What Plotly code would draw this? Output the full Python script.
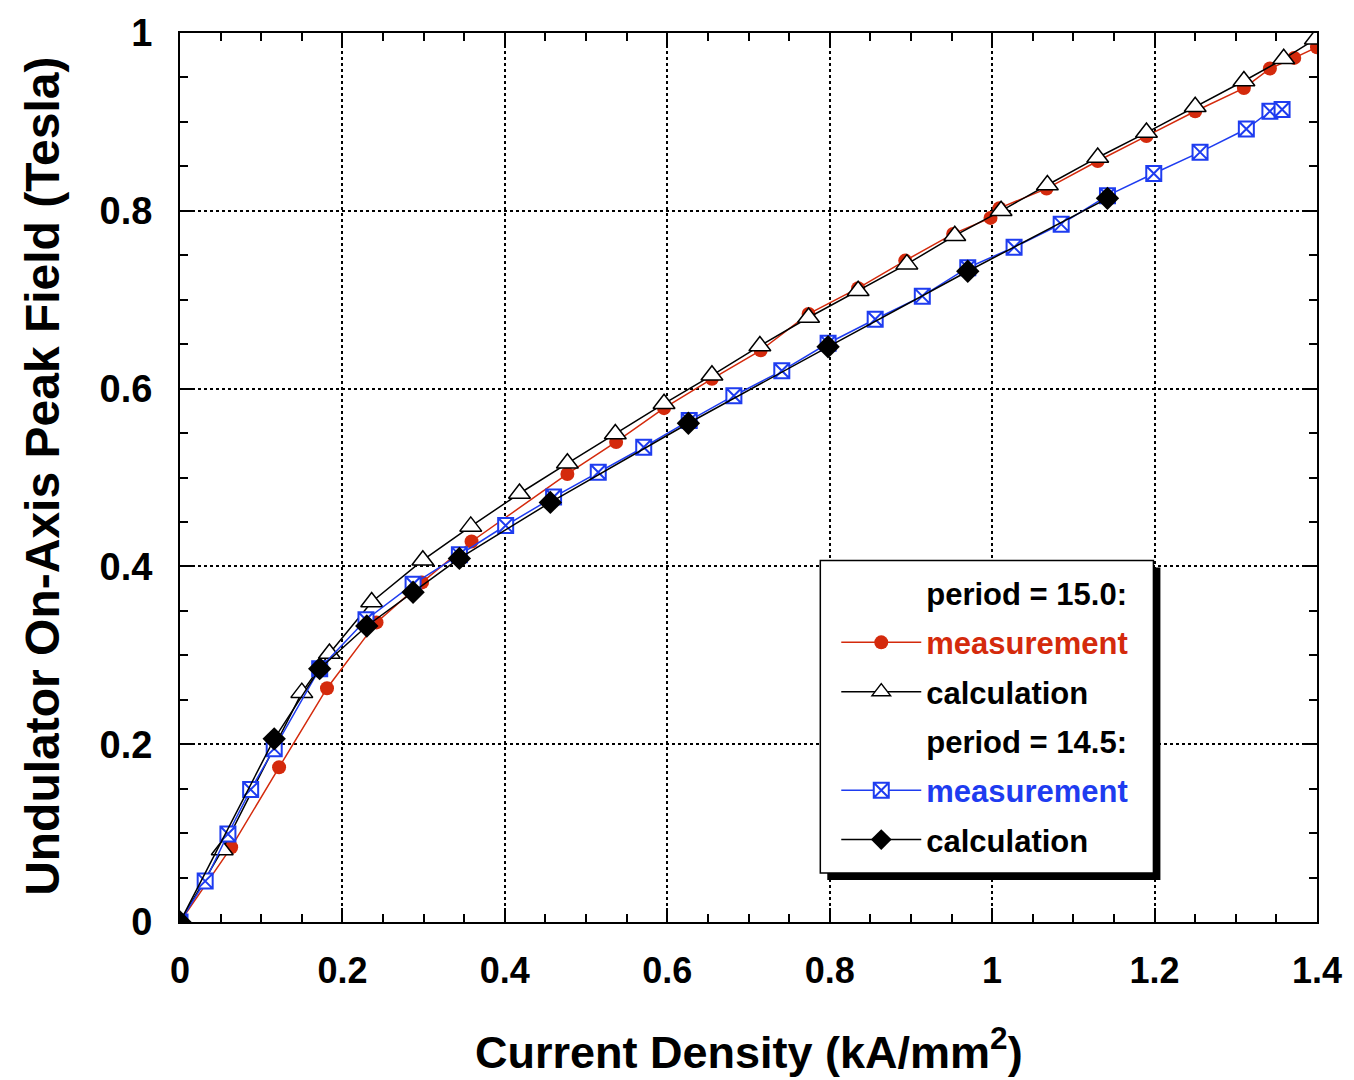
import plotly.graph_objects as go

# ---------------- data ----------------
meas150_x = [0, 0.063, 0.122, 0.181, 0.242, 0.298, 0.359, 0.477, 0.537, 0.596, 0.655, 0.715,
             0.774, 0.835, 0.893, 0.952, 0.998, 1.009, 1.067, 1.130, 1.190, 1.250, 1.310,
             1.342, 1.372, 1.400]
meas150_y = [0, 0.084, 0.174, 0.263, 0.337, 0.382, 0.428, 0.504, 0.540, 0.578, 0.611, 0.643,
             0.684, 0.713, 0.744, 0.774, 0.792, 0.803, 0.825, 0.856, 0.884, 0.912, 0.938,
             0.960, 0.972, 0.984]

calc150_x = [0, 0.052, 0.150, 0.184, 0.236, 0.299, 0.358, 0.418, 0.477, 0.536, 0.596, 0.655,
             0.714, 0.774, 0.835, 0.895, 0.954, 1.011, 1.068, 1.130, 1.190, 1.250, 1.310,
             1.359, 1.398]
calc150_y = [0, 0.081, 0.258, 0.302, 0.360, 0.407, 0.445, 0.482, 0.516, 0.549, 0.583, 0.615,
             0.648, 0.680, 0.710, 0.740, 0.772, 0.800, 0.829, 0.860, 0.888, 0.917, 0.946,
             0.971, 0.993]

meas145_x = [0, 0.031, 0.059, 0.087, 0.116, 0.172, 0.229, 0.287, 0.344, 0.401, 0.460, 0.515,
             0.571, 0.627, 0.682, 0.741, 0.798, 0.856, 0.914, 0.970, 1.027, 1.085, 1.142,
             1.199, 1.256, 1.313, 1.342, 1.357]
meas145_y = [0, 0.046, 0.099, 0.149, 0.195, 0.285, 0.340, 0.380, 0.413, 0.446, 0.478, 0.506,
             0.534, 0.564, 0.592, 0.620, 0.651, 0.678, 0.704, 0.736, 0.759, 0.785, 0.817,
             0.842, 0.866, 0.892, 0.912, 0.914]

calc145_x = [0, 0.116, 0.172, 0.230, 0.287, 0.344, 0.456, 0.626, 0.798, 0.970, 1.142]
calc145_y = [0, 0.206, 0.285, 0.333, 0.371, 0.409, 0.472, 0.561, 0.647, 0.732, 0.814]

x_ticks = [0, 0.2, 0.4, 0.6, 0.8, 1.0, 1.2, 1.4]
y_ticks = [0, 0.2, 0.4, 0.6, 0.8, 1.0]

RED = "#d42a0c"
BLUE = "#1e3cf0"
FONT = "Liberation Sans, Arial, sans-serif"

# ---------------- figure ----------------
fig = go.Figure()

hidden = dict(size=1, color="rgba(0,0,0,0)", line=dict(width=0))

fig.add_trace(go.Scatter(x=[None], y=[None], mode="markers", marker=hidden,
                         name="period = 15.0:", legendgroup="g1", legendrank=1))
fig.add_trace(go.Scatter(x=meas150_x, y=meas150_y, mode="lines+markers",
                         line=dict(color=RED, width=1.5),
                         marker=dict(symbol="circle", size=14, color=RED),
                         name=f'<span style="color:{RED}">measurement</span>',
                         legendgroup="g2", legendrank=2))
fig.add_trace(go.Scatter(x=calc150_x, y=calc150_y, mode="lines+markers",
                         line=dict(color="black", width=1.5),
                         marker=dict(symbol="triangle-up", size=19, color="white",
                                     line=dict(color="black", width=1.5)),
                         name="calculation", legendgroup="g3", legendrank=3))
fig.add_trace(go.Scatter(x=[None], y=[None], mode="markers", marker=hidden,
                         name="period = 14.5:", legendgroup="g4", legendrank=4))
fig.add_trace(go.Scatter(x=meas145_x, y=meas145_y, mode="lines+markers",
                         line=dict(color=BLUE, width=1.5),
                         marker=dict(symbol="square-x", size=15, color="white",
                                     line=dict(color=BLUE, width=2)),
                         name=f'<span style="color:{BLUE}">measurement</span>',
                         legendgroup="g5", legendrank=5))
fig.add_trace(go.Scatter(x=calc145_x, y=calc145_y, mode="lines+markers",
                         line=dict(color="black", width=1.5),
                         marker=dict(symbol="diamond", size=18, color="black"),
                         name="calculation", legendgroup="g6", legendrank=6))

# plot area in px: x 180..1320, y 32..922
def px(xp):
    return (xp - 180) / 1140.0

def py(yp):
    return (922 - yp) / 890.0

shapes = [
    dict(type="rect", xref="paper", yref="paper", x0=px(829), x1=px(1163), y0=py(880), y1=py(567),
         fillcolor="black", line=dict(width=0), layer="above"),
    dict(type="rect", xref="paper", yref="paper", x0=px(822), x1=px(1156), y0=py(873), y1=py(560),
         fillcolor="white", line=dict(color="black", width=1.5), layer="above"),
]

axis_common = dict(
    showline=True, linecolor="black", linewidth=2, mirror="allticks",
    ticks="inside", ticklen=14, tickwidth=1.5, tickcolor="black",
    showgrid=True, gridcolor="black", griddash="dot", gridwidth=1.5,
    zeroline=False,
    minor=dict(ticks="inside", ticklen=8, tickwidth=1.5, tickcolor="black", dtick=0.05,
               showgrid=False),
)

fig.update_layout(
    width=1354, height=1080,
    margin=dict(l=180, r=34, t=32, b=158),
    paper_bgcolor="white", plot_bgcolor="white",
    showlegend=True,
    legend=dict(x=px(838), y=py(566), xanchor="left", yanchor="top",
                bgcolor="rgba(0,0,0,0)", borderwidth=0,
                font=dict(family=FONT, size=31, color="black", weight="bold"),
                itemwidth=80, traceorder="grouped", tracegroupgap=6,
                itemclick=False),
    xaxis=dict(range=[0, 1.4], tickvals=x_ticks, ticktext=[f"{v:g}" for v in x_ticks],
               tickfont=dict(family=FONT, size=36, color="black", weight="bold"),
               ticklabelstandoff=16, **axis_common),
    yaxis=dict(range=[0, 1], tickvals=y_ticks, ticktext=[f"{v:g}" for v in y_ticks],
               tickfont=dict(family=FONT, size=38, color="black", weight="bold"),
               ticklabelstandoff=18, **axis_common),
    shapes=shapes,
    annotations=[
        dict(text="Current Density (kA/mm<sup>2</sup>)", xref="paper", yref="paper",
             x=px(750), y=py(1049), xanchor="center", yanchor="middle", showarrow=False,
             font=dict(family=FONT, size=45, color="black", weight="bold")),
        dict(text="Undulator On-Axis Peak Field (Tesla)", xref="paper", yref="paper",
             x=px(42), y=py(476), xanchor="center", yanchor="middle", showarrow=False, textangle=-90,
             font=dict(family=FONT, size=48, color="black", weight="bold")),
    ],
)

fig.write_html("out.html")
